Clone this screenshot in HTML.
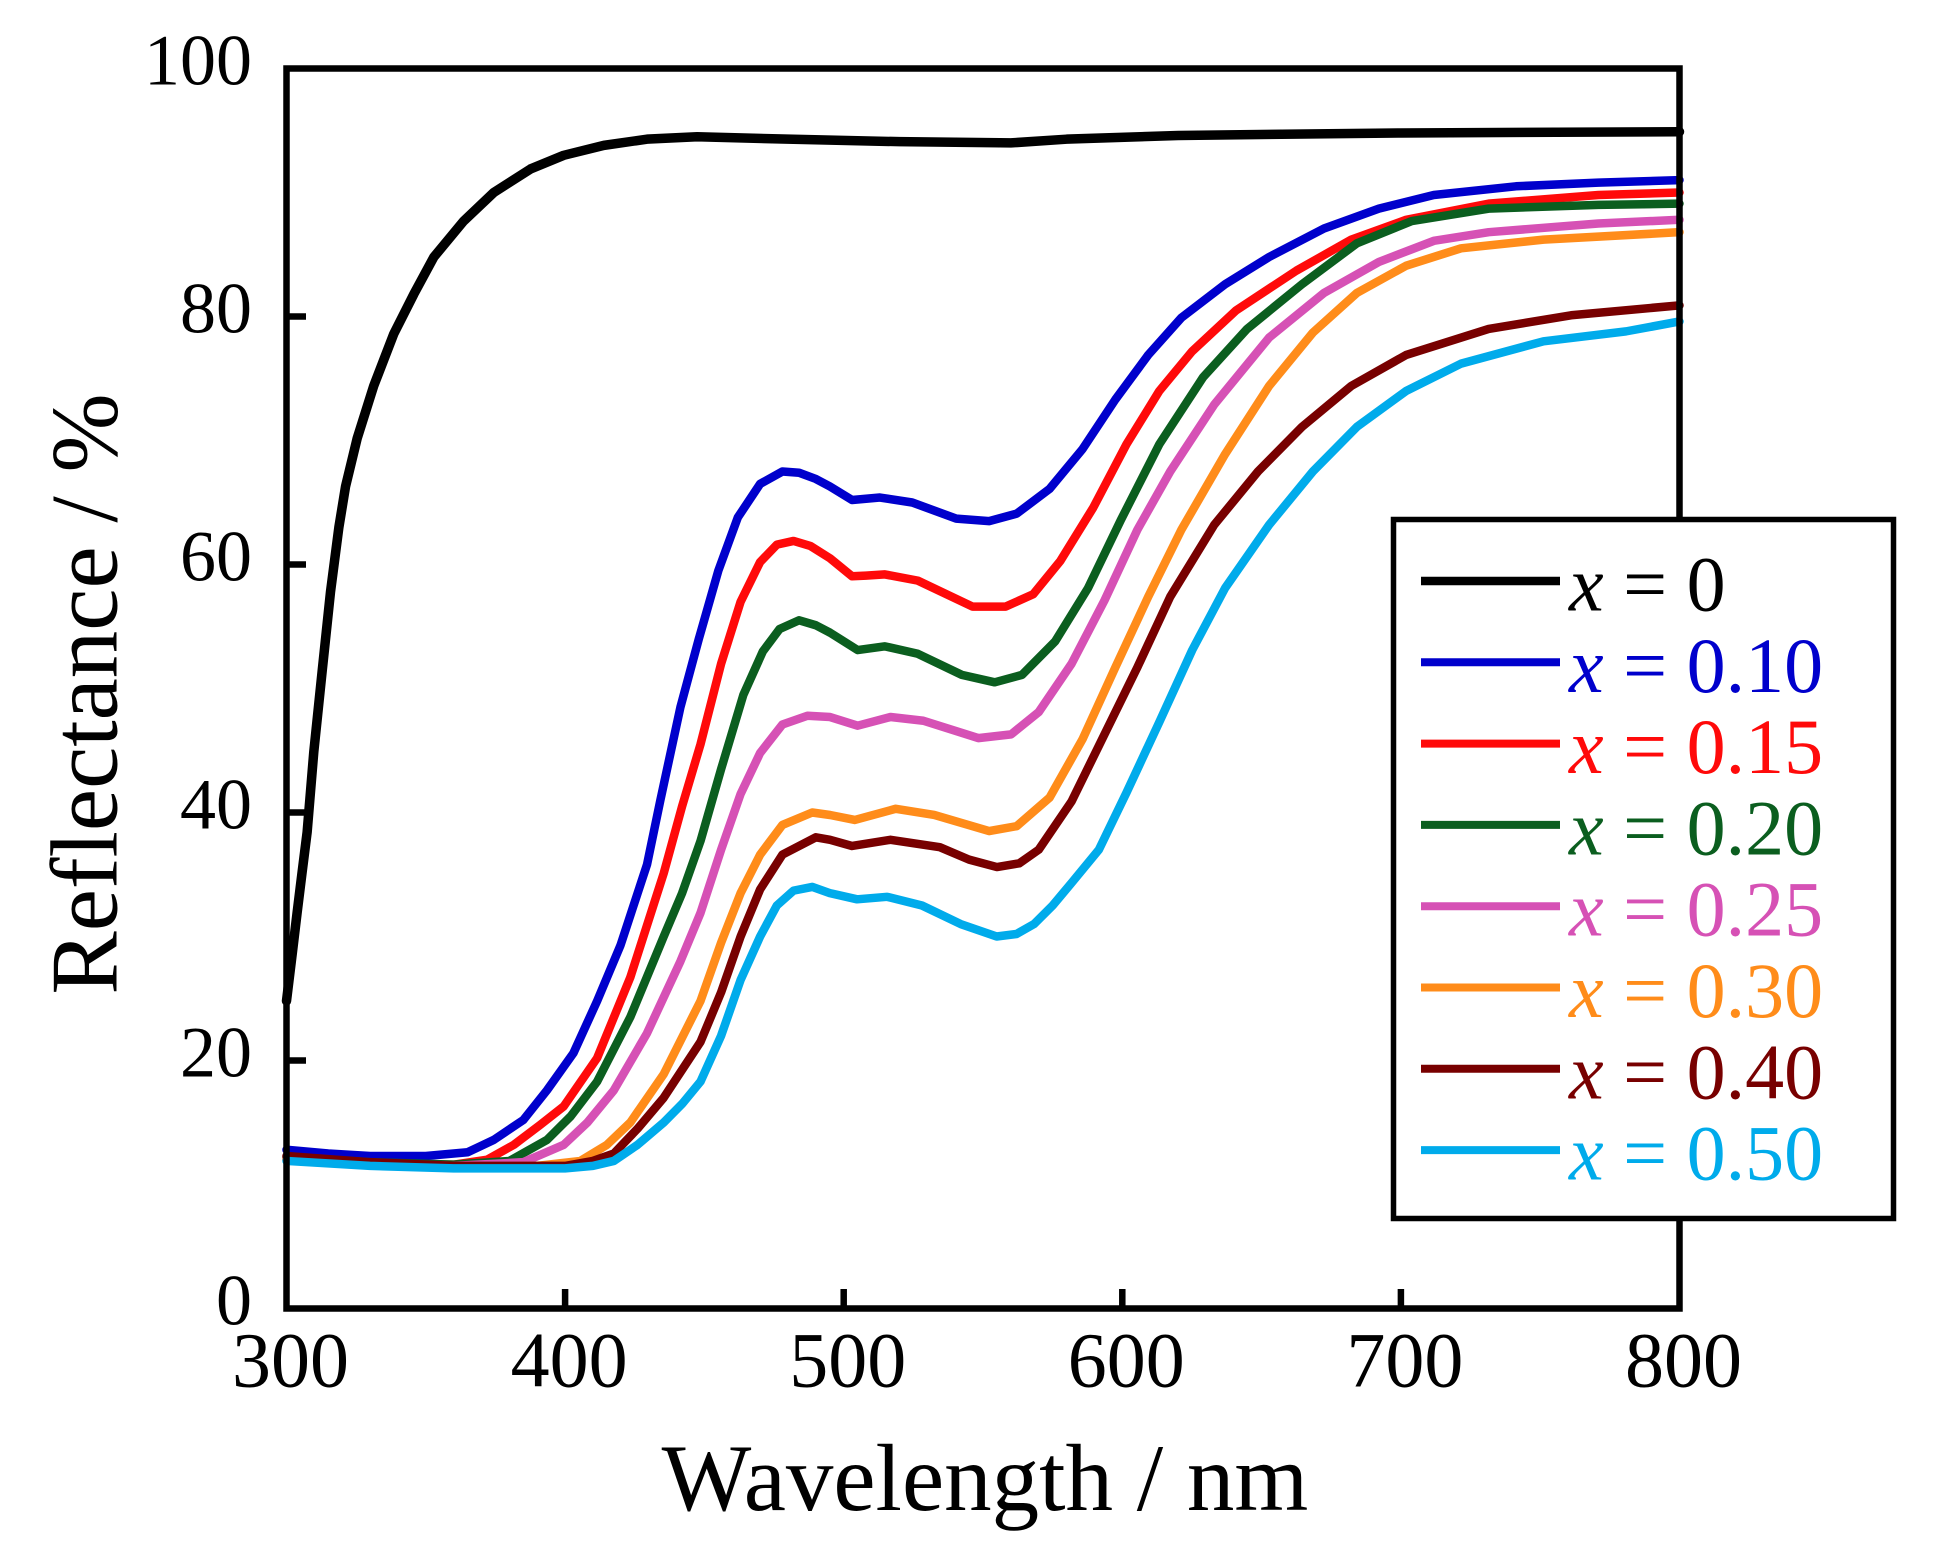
<!DOCTYPE html>
<html>
<head>
<meta charset="utf-8">
<style>
html,body{margin:0;padding:0;background:#fff;}
svg{display:block;}
text{font-family:"Liberation Serif","Times New Roman",serif;fill:#000;}
</style>
</head>
<body>
<svg width="1953" height="1560" viewBox="0 0 1953 1560" xmlns="http://www.w3.org/2000/svg">
<rect x="0" y="0" width="1953" height="1560" fill="#fff"/>

<!-- curves in data coordinates -->
<g transform="translate(286.5,1308.5) scale(2.786,-12.4) translate(-300,0)" fill="none" stroke-linejoin="round" stroke-linecap="round">
<polyline vector-effect="non-scaling-stroke" stroke="#000000" stroke-width="9.5" points="300,24.8 302,28.5 303.8,31.9 305.5,35 307.4,38.4 309.8,44.9 312.8,51.4 315.8,57.8 318.8,63.0 321.2,66.3 325.4,70.2 331.3,74.4 338.5,78.6 345.7,81.8 352.9,84.8 363.6,87.7 374.4,90.0 387.6,91.9 399.5,93.0 413.9,93.8 429.4,94.3 447.4,94.5 480,94.3 520,94.1 560,94.0 580,94.3 620,94.6 700,94.8 800,94.9"/>
<polyline vector-effect="non-scaling-stroke" stroke="#0000CC" stroke-width="8.5" points="300,12.8 315,12.5 330,12.3 350,12.3 365,12.6 374.4,13.6 385,15.2 393.5,17.6 403,20.6 411.5,24.8 419.9,29.3 429.4,35.8 434.2,41 441.4,48.5 448,54 455,59.5 462,63.8 470,66.5 478,67.5 484,67.4 490,66.9 495,66.3 503,65.2 508,65.3 513,65.4 524.6,65.0 540.4,63.7 552.2,63.5 562.1,64.1 573.9,66.1 585.7,69.3 597.5,73.3 609.3,76.9 621.2,79.9 636.9,82.6 652.7,84.8 672.4,87.1 692.1,88.7 711.8,89.8 741.3,90.5 770.9,90.8 800,91.0"/>
<polyline vector-effect="non-scaling-stroke" stroke="#FF0A0A" stroke-width="8.5" points="300,12.0 330,11.6 360,11.6 372,12.0 381.6,13.2 391,14.8 399.5,16.3 411.5,20.2 423.4,26.7 435.4,35.1 442,40.5 448.6,45.5 456,52 463,57 470,60.2 476,61.6 482,61.9 488,61.5 495.1,60.5 503,59.05 508,59.1 514.8,59.2 526.6,58.7 546.3,56.6 558.1,56.6 568,57.6 577.8,60.3 589.6,64.6 601.5,69.7 613.3,74.0 625.1,77.2 640.9,80.5 662.5,83.7 682.2,86.2 701.9,87.8 731.5,89.1 770.9,89.8 800,90.0"/>
<polyline vector-effect="non-scaling-stroke" stroke="#0B5E1F" stroke-width="8.5" points="300,12.2 330,11.8 360,11.6 380,11.9 393.5,13.6 402,15.5 411.5,18.3 423.4,23.5 435.4,30.0 442,33.5 448.6,37.7 456,43.5 464,49.5 471,53 477,54.8 484,55.5 490,55.1 495.1,54.5 505,53.1 514.8,53.4 526.6,52.8 542.4,51.1 554.2,50.5 564,51.1 575.9,53.8 587.7,58.1 599.5,63.6 613.3,69.7 629,75.1 644.8,79.0 664.5,82.6 684.2,85.9 703.9,87.7 731.5,88.7 770.9,89.0 800,89.1"/>
<polyline vector-effect="non-scaling-stroke" stroke="#D651B5" stroke-width="8.5" points="300,12.1 330,11.7 360,11.5 385,11.8 399.5,13.2 408,15 417.5,17.6 429.4,22.2 441.4,28.0 448.6,31.9 456,37 463,41.5 470,44.8 478,47.1 487,47.8 495.1,47.7 505,47.0 516.8,47.7 528.6,47.4 548.3,46.0 560.1,46.3 570,48.1 581.8,52.0 593.6,57.1 605.4,62.8 617.2,67.5 633,72.9 652.7,78.3 672.4,81.9 692.1,84.4 711.8,86.1 731.5,86.8 770.9,87.5 800,87.8"/>
<polyline vector-effect="non-scaling-stroke" stroke="#FF8C1A" stroke-width="8.5" points="300,12.0 330,11.6 360,11.4 390,11.5 405.5,11.9 415,13.2 423.4,15.0 435.4,18.9 448.6,24.8 456,29.5 463,33.5 470,36.6 478,39.0 488.7,40.0 495.1,39.8 504,39.4 518.7,40.3 532.5,39.8 552.2,38.5 562.1,38.9 573.9,41.2 585.7,45.9 597.5,51.7 609.3,57.4 621.2,62.8 636.9,68.9 652.7,74.4 668.4,78.7 684.2,81.9 701.9,84.1 721.6,85.5 751.2,86.2 800,86.8"/>
<polyline vector-effect="non-scaling-stroke" stroke="#780000" stroke-width="8.5" points="300,12.3 330,11.8 360,11.5 400,11.5 410,11.9 417.5,12.5 426,14.5 435.4,17.0 448.6,21.5 456,25.5 463,30 470,33.8 478,36.6 490,38.0 495.1,37.8 503,37.3 516.8,37.8 534.5,37.2 545,36.2 555,35.6 563,35.9 570,37.0 581.8,40.9 593.6,46.3 605.4,51.7 617.2,57.4 633,63.2 648.7,67.5 664.5,71.1 682.2,74.4 701.9,76.9 731.5,79.0 761.1,80.1 800,80.9"/>
<polyline vector-effect="non-scaling-stroke" stroke="#00ABEB" stroke-width="8.5" points="300,11.9 330,11.5 360,11.3 400,11.3 410,11.5 417.5,11.9 426,13.2 435.4,15.0 442,16.5 448.6,18.3 456,22 463,26.5 470,30.0 476,32.5 482,33.7 488.7,34.0 495,33.5 504.8,33.0 515.6,33.2 528.1,32.5 542,31.0 554.9,30.0 562,30.2 568.3,31.0 575,32.5 581.7,34.3 591.6,37.0 601.5,41.6 613.3,47.3 625.1,53.1 636.9,58.1 652.7,63.2 668.4,67.5 684.2,71.1 701.9,74.0 721.6,76.2 751.2,78.0 780.8,78.8 800,79.6"/>
</g>

<!-- frame -->
<rect x="286.5" y="68.5" width="1393" height="1240" fill="none" stroke="#000" stroke-width="6.5"/>

<!-- ticks -->
<g stroke="#000" stroke-width="6.5">
<line x1="286.5" y1="1060.5" x2="306" y2="1060.5"/>
<line x1="286.5" y1="812.5" x2="306" y2="812.5"/>
<line x1="286.5" y1="564.5" x2="306" y2="564.5"/>
<line x1="286.5" y1="316.5" x2="306" y2="316.5"/>
<line x1="565.1" y1="1308.5" x2="565.1" y2="1289"/>
<line x1="843.7" y1="1308.5" x2="843.7" y2="1289"/>
<line x1="1122.3" y1="1308.5" x2="1122.3" y2="1289"/>
<line x1="1400.9" y1="1308.5" x2="1400.9" y2="1289"/>
</g>

<!-- y tick labels -->
<g font-size="72" text-anchor="end">
<text x="252" y="1324.5">0</text>
<text x="252" y="1076.5">20</text>
<text x="252" y="828.5">40</text>
<text x="252" y="580.5">60</text>
<text x="252" y="332.5">80</text>
<text x="252" y="84.5">100</text>
</g>

<!-- x tick labels -->
<g font-size="78" text-anchor="middle">
<text x="290.5" y="1386.5">300</text>
<text x="569.1" y="1386.5">400</text>
<text x="847.7" y="1386.5">500</text>
<text x="1126.3" y="1386.5">600</text>
<text x="1404.9" y="1386.5">700</text>
<text x="1683.5" y="1386.5">800</text>
</g>

<!-- axis titles -->
<text x="985" y="1510" font-size="95" text-anchor="middle">Wavelength / nm</text>
<text transform="translate(116.7,694) rotate(-90)" font-size="95" text-anchor="middle">Reflectance / %</text>

<!-- legend -->
<rect x="1393.5" y="519.5" width="500" height="699" fill="#fff" stroke="#000" stroke-width="5.5"/>
<g stroke-width="8">
<line x1="1421" y1="581" x2="1560" y2="581" stroke="#000000" stroke-width="8.5"/>
<line x1="1421" y1="662.3" x2="1560" y2="662.3" stroke="#0000CC"/>
<line x1="1421" y1="743.6" x2="1560" y2="743.6" stroke="#FF0A0A"/>
<line x1="1421" y1="824.9" x2="1560" y2="824.9" stroke="#0B5E1F"/>
<line x1="1421" y1="906.2" x2="1560" y2="906.2" stroke="#D651B5"/>
<line x1="1421" y1="987.5" x2="1560" y2="987.5" stroke="#FF8C1A"/>
<line x1="1421" y1="1068.8" x2="1560" y2="1068.8" stroke="#780000"/>
<line x1="1421" y1="1150.1" x2="1560" y2="1150.1" stroke="#00ABEB"/>
</g>
<g font-size="78">
<text x="1569" y="610.5" style="fill:#000000"><tspan font-style="italic">x</tspan> = 0</text>
<text x="1569" y="691.8" style="fill:#0000CC"><tspan font-style="italic">x</tspan> = 0.10</text>
<text x="1569" y="773.1" style="fill:#FF0A0A"><tspan font-style="italic">x</tspan> = 0.15</text>
<text x="1569" y="854.4" style="fill:#0B5E1F"><tspan font-style="italic">x</tspan> = 0.20</text>
<text x="1569" y="935.7" style="fill:#D651B5"><tspan font-style="italic">x</tspan> = 0.25</text>
<text x="1569" y="1017" style="fill:#FF8C1A"><tspan font-style="italic">x</tspan> = 0.30</text>
<text x="1569" y="1098.3" style="fill:#780000"><tspan font-style="italic">x</tspan> = 0.40</text>
<text x="1569" y="1179.6" style="fill:#00ABEB"><tspan font-style="italic">x</tspan> = 0.50</text>
</g>
</svg>
</body>
</html>
